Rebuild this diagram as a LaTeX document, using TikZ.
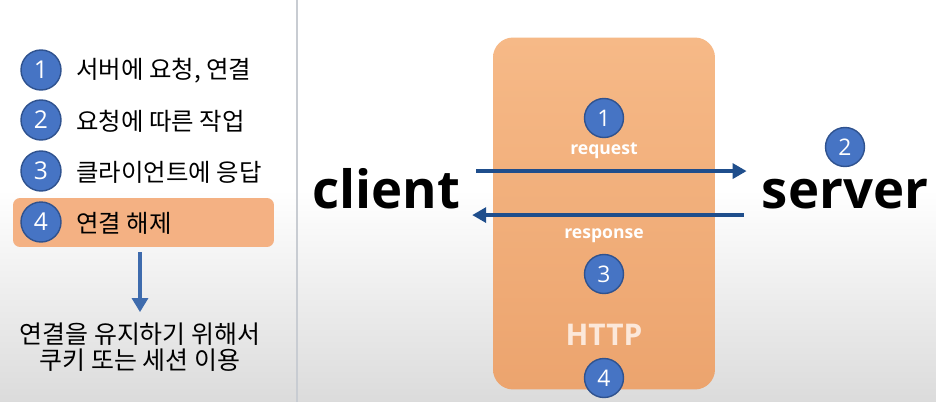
\documentclass[tikz,border=0pt]{standalone}
\usepackage{fontspec}
\setmainfont{Open Sans}
\newfontfamily\kofont{Noto Sans CJK KR}
\usetikzlibrary{arrows.meta}
\definecolor{numblue}{RGB}{70,116,196}
\definecolor{numedge}{RGB}{47,82,143}
\definecolor{boxorange}{RGB}{244,177,131}
\definecolor{httptop}{RGB}{246,185,135}
\definecolor{httpbot}{RGB}{236,164,110}
\definecolor{flowblue}{RGB}{31,78,140}
\definecolor{downblue}{RGB}{62,107,173}
\definecolor{sepgray}{RGB}{200,204,210}

\begin{document}
\begin{tikzpicture}[x=0.02cm, y=-0.02cm,
    num/.style={circle, fill=numblue, draw=numedge, line width=0.8pt, minimum size=0.8cm, inner sep=0pt, text=white, font=\fontsize{14}{14}\selectfont},
    itemtext/.style={anchor=west, inner sep=0pt, font=\kofont\fontsize{13.9}{15}\selectfont},
    bigword/.style={anchor=base, text height=22pt, text depth=0pt, font=\bfseries\fontsize{30}{30}\selectfont},
    flowlabel/.style={text=white, font=\bfseries\fontsize{10}{10}\selectfont},
    flow/.style={flowblue, line width=2.4pt, -{Triangle[length=8pt,width=8.5pt]}},
    downarrow/.style={downblue, line width=2.8pt, -{Triangle[length=8pt,width=9pt]}}]
    \useasboundingbox (0,0) rectangle (936,402);
    \fill[white] (0,0) rectangle (936,190);
    \shade[top color=white, bottom color=gray!28] (0,190) rectangle (936,402);
    \draw[sepgray, line width=1.5pt] (297,0) -- (297,402);

    % left: steps
    \node[fill=boxorange, rounded corners=4pt, minimum width=5.22cm, minimum height=0.98cm] (hl) at (143.5,222.5) {};
    \node[num] (n1) at (41,70) {1};
    \node[num] (n2) at (41,120) {2};
    \node[num] (n3) at (41,171) {3};
    \node[num] (n4) at (41,222) {4};
    \node[itemtext] (t1) at (76,71) {서버에 요청, 연결};
    \node[itemtext] (t2) at (76,121) {요청에 따른 작업};
    \node[itemtext] (t3) at (76,172) {클라이언트에 응답};
    \node[itemtext] (t4) at (76,223) {연결 해제};
    \node[align=center, inner sep=0pt, font=\kofont\fontsize{14.2}{15}\selectfont] (note) at (140,347) {연결을 유지하기 위해서\\쿠키 또는 세션 이용};
    \draw[downarrow, shorten <=0.1cm, shorten >=0.2cm] (hl.south -| note.north) -- (note.north);

    % right: http
    \node[top color=httptop, bottom color=httpbot, rounded corners=0.4cm, minimum width=4.44cm, minimum height=7.04cm] (http) at (604,213.5) {};
    \node[bigword] (client) at (386,208) {client};
    \node[bigword] (server) at (845,208) {server};
    \node[num, minimum size=0.78cm, font=\fontsize{13}{13}\selectfont] (r1) at (604,118) {1};
    \node[num, minimum size=0.78cm, font=\fontsize{13}{13}\selectfont] (r2) at (845,147) {2};
    \node[num, minimum size=0.78cm, font=\fontsize{13}{13}\selectfont] (r3) at (604,274) {3};
    \node[num, minimum size=0.78cm, font=\fontsize{13}{13}\selectfont] (r4) at (604,378) {4};
    \node[flowlabel] (req) at (604,151) {request};
    \node[flowlabel] (resp) at (604,236) {response};
    \node[text=white!70!boxorange, font=\bfseries\fontsize{17}{17}\selectfont] (proto) at (604,335) {HTTP};
    \draw[flow] ([xshift=0.2cm,yshift=0.352cm]client.east) -- ([xshift=-0.18cm,yshift=0.352cm]server.west);
    \draw[flow] ([xshift=-0.24cm,yshift=-0.528cm]server.west) -- ([xshift=0.12cm,yshift=-0.528cm]client.east);
\end{tikzpicture}
\end{document}
